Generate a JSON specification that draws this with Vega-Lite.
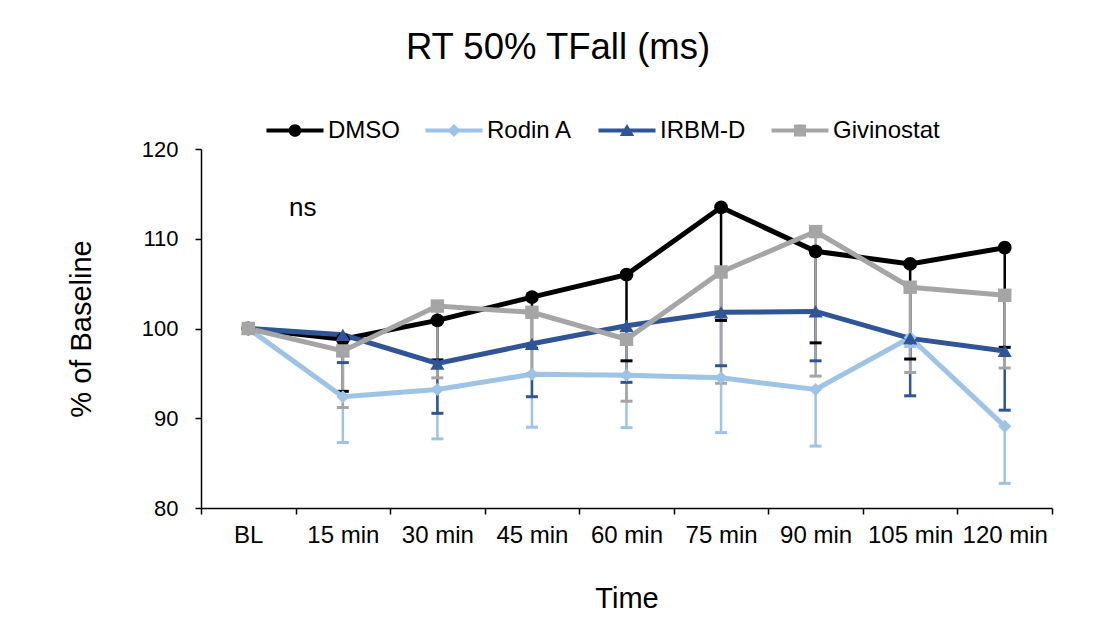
{
  "$schema": "https://vega.github.io/schema/vega-lite/v6.json",
  "width": 851,
  "height": 359,
  "autosize": "none",
  "padding": {"left": 201, "top": 149, "right": 45, "bottom": 124},
  "background": "white",
  "config": {"view": {"stroke": null}, "font": "Liberation Sans"},
  "title": {"text": "RT 50% TFall (ms)", "fontSize": 36.5, "font": "Liberation Sans", "fontWeight": "normal", "color": "#000000", "anchor": "middle", "frame": "group", "offset": 23, "baseline": "alphabetic", "dx": -68.5},
  "datasets": {
    "main": [
      {"time": "BL", "series": "DMSO", "value": 100, "low": null},
      {"time": "15 min", "series": "DMSO", "value": 98.8, "low": 93.0},
      {"time": "30 min", "series": "DMSO", "value": 100.9, "low": 96.5},
      {"time": "45 min", "series": "DMSO", "value": 103.5, "low": 97.8},
      {"time": "60 min", "series": "DMSO", "value": 106.0, "low": 96.4},
      {"time": "75 min", "series": "DMSO", "value": 113.5, "low": 100.9},
      {"time": "90 min", "series": "DMSO", "value": 108.6, "low": 98.4},
      {"time": "105 min", "series": "DMSO", "value": 107.2, "low": 96.6},
      {"time": "120 min", "series": "DMSO", "value": 109.0, "low": 97.9},
      {"time": "BL", "series": "Rodin A", "value": 100, "low": null},
      {"time": "15 min", "series": "Rodin A", "value": 92.4, "low": 87.3},
      {"time": "30 min", "series": "Rodin A", "value": 93.2, "low": 87.7},
      {"time": "45 min", "series": "Rodin A", "value": 94.9, "low": 89.0},
      {"time": "60 min", "series": "Rodin A", "value": 94.8, "low": 88.95},
      {"time": "75 min", "series": "Rodin A", "value": 94.5, "low": 88.4},
      {"time": "90 min", "series": "Rodin A", "value": 93.2, "low": 86.9},
      {"time": "105 min", "series": "Rodin A", "value": 99.0, "low": 98.0},
      {"time": "120 min", "series": "Rodin A", "value": 89.1, "low": 82.75},
      {"time": "BL", "series": "IRBM-D", "value": 100, "low": null},
      {"time": "15 min", "series": "IRBM-D", "value": 99.3, "low": 96.2},
      {"time": "30 min", "series": "IRBM-D", "value": 96.1, "low": 90.55},
      {"time": "45 min", "series": "IRBM-D", "value": 98.3, "low": 92.4},
      {"time": "60 min", "series": "IRBM-D", "value": 100.3, "low": 94.0},
      {"time": "75 min", "series": "IRBM-D", "value": 101.8, "low": 95.85},
      {"time": "90 min", "series": "IRBM-D", "value": 101.9, "low": 96.4},
      {"time": "105 min", "series": "IRBM-D", "value": 98.9, "low": 92.5},
      {"time": "120 min", "series": "IRBM-D", "value": 97.5, "low": 90.9},
      {"time": "BL", "series": "Givinostat", "value": 100, "low": null},
      {"time": "15 min", "series": "Givinostat", "value": 97.5, "low": 91.2},
      {"time": "30 min", "series": "Givinostat", "value": 102.5, "low": 94.5},
      {"time": "45 min", "series": "Givinostat", "value": 101.8, "low": 95.0},
      {"time": "60 min", "series": "Givinostat", "value": 98.8, "low": 91.9},
      {"time": "75 min", "series": "Givinostat", "value": 106.3, "low": 93.9},
      {"time": "90 min", "series": "Givinostat", "value": 110.8, "low": 94.7},
      {"time": "105 min", "series": "Givinostat", "value": 104.6, "low": 95.1},
      {"time": "120 min", "series": "Givinostat", "value": 103.7, "low": 95.6}
    ],
    "note": [{"time": "15 min", "value": 113.4, "label": "ns"}]
  },
  "encoding": {
    "x": {
      "field": "time", "type": "ordinal",
      "sort": ["BL", "15 min", "30 min", "45 min", "60 min", "75 min", "90 min", "105 min", "120 min"],
      "scale": {"paddingInner": 0, "paddingOuter": 0},
      "axis": {
        "title": "Time", "titleFontSize": 29, "titleFontWeight": "normal", "titleColor": "#000000", "titlePadding": 37,
        "labelAngle": 0, "labelFontSize": 24, "labelColor": "#000000", "labelPadding": 9, "labelOverlap": false, "labelBound": false,
        "tickBand": "extent", "tickSize": 6, "tickColor": "#000000", "tickWidth": 1.5,
        "domainColor": "#000000", "domainWidth": 1.5, "grid": false
      }
    }
  },
  "layer": [
    {
      "data": {"name": "main"},
      "transform": [{"filter": "isValid(datum.low)"}],
      "mark": {"type": "rule", "strokeWidth": 2.5},
      "encoding": {
        "y": {"field": "value", "type": "quantitative"},
        "y2": {"field": "low"},
        "color": {"field": "series", "type": "nominal"}
      }
    },
    {
      "data": {"name": "main"},
      "transform": [{"filter": "isValid(datum.low)"}],
      "mark": {"type": "tick", "size": 12, "thickness": 3, "opacity": 1},
      "encoding": {
        "y": {"field": "low", "type": "quantitative"},
        "color": {"field": "series", "type": "nominal"}
      }
    },
    {
      "data": {"name": "main"},
      "mark": {"type": "line", "strokeWidth": 5},
      "encoding": {
        "y": {"field": "value", "type": "quantitative"},
        "color": {"field": "series", "type": "nominal"}
      }
    },
    {
      "data": {"name": "main"},
      "mark": {"type": "point", "filled": true, "opacity": 1},
      "encoding": {
        "y": {
          "field": "value", "type": "quantitative",
          "scale": {"domain": [80, 120], "nice": false, "zero": false},
          "axis": {
            "values": [80, 90, 100, 110, 120], "grid": false,
            "domainColor": "#000000", "domainWidth": 1.5, "tickColor": "#000000", "tickWidth": 1.5, "tickSize": 6,
            "labelFontSize": 22, "labelColor": "#000000", "labelPadding": 17,
            "title": "% of Baseline", "titleFontSize": 29, "titleFontWeight": "normal", "titleColor": "#000000", "titlePadding": 45
          }
        },
        "color": {
          "field": "series", "type": "nominal",
          "scale": {"domain": ["DMSO", "Rodin A", "IRBM-D", "Givinostat"], "range": ["#000000", "#9DC3E6", "#2F5597", "#A5A5A5"]},
          "legend": {
            "title": null, "orient": "none", "direction": "horizontal", "legendX": 65, "legendY": -30.5, "padding": 0,
            "labelFontSize": 24, "labelColor": "#000000", "labelFont": "Liberation Sans",
            "symbolSize": 144, "symbolStrokeWidth": 0, "symbolOpacity": 1, "symbolOffset": 17, "labelOffset": 21, "columnPadding": 25,
            "symbolType": {"expr": "datum.value === 'DMSO' ? 'M-4.75,-0.35L4.75,-0.35L4.75,0.35L-4.75,0.35Z M1.05,0A1.05,1.05 0 1,1 -1.05,0A1.05,1.05 0 1,1 1.05,0Z' : datum.value === 'Rodin A' ? 'M-4.75,-0.35L4.75,-0.35L4.75,0.35L-4.75,0.35Z M0,-1.1L1.1,0L0,1.1L-1.1,0Z' : datum.value === 'IRBM-D' ? 'M-4.75,-0.35L4.75,-0.35L4.75,0.35L-4.75,0.35Z M0,-1.1L1.2,0.9L-1.2,0.9Z' : 'M-4.75,-0.35L4.75,-0.35L4.75,0.35L-4.75,0.35Z M-1,-1L1,-1L1,1L-1,1Z'"}
          }
        },
        "shape": {
          "field": "series", "type": "nominal",
          "scale": {"domain": ["Givinostat", "IRBM-D", "Rodin A", "DMSO"], "range": ["square", "triangle-up", "diamond", "circle"]},
          "legend": null
        },
        "size": {
          "field": "series", "type": "nominal",
          "scale": {"domain": ["IRBM-D", "DMSO", "Givinostat", "Rodin A"], "range": [200, 170, 240, 230]},
          "legend": null
        }
      }
    },
    {
      "data": {"name": "note"},
      "mark": {"type": "text", "fontSize": 26, "font": "Liberation Sans", "color": "#000000", "dx": -40, "baseline": "middle", "align": "center"},
      "encoding": {
        "y": {"field": "value", "type": "quantitative"},
        "text": {"field": "label"}
      }
    }
  ]
}
